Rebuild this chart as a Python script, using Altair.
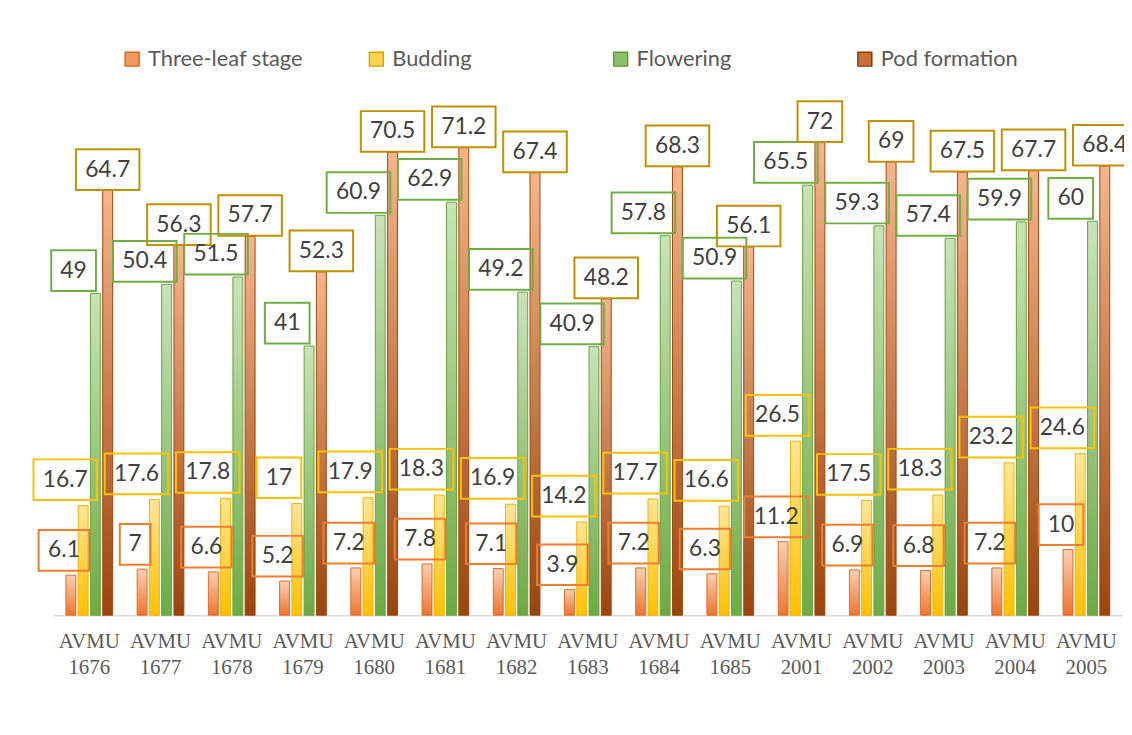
import math
import altair as alt
import pandas as pd

# ---------------- data ----------------
categories = ["AVMU 1676", "AVMU 1677", "AVMU 1678", "AVMU 1679", "AVMU 1680",
              "AVMU 1681", "AVMU 1682", "AVMU 1683", "AVMU 1684", "AVMU 1685",
              "AVMU 2001", "AVMU 2002", "AVMU 2003", "AVMU 2004", "AVMU 2005"]
series_names = ["Three-leaf stage", "Budding", "Flowering", "Pod formation"]
three_leaf = [6.1, 7, 6.6, 5.2, 7.2, 7.8, 7.1, 3.9, 7.2, 6.3, 11.2, 6.9, 6.8, 7.2, 10]
budding = [16.7, 17.6, 17.8, 17, 17.9, 18.3, 16.9, 14.2, 17.7, 16.6, 26.5, 17.5, 18.3, 23.2, 24.6]
flowering = [49, 50.4, 51.5, 41, 60.9, 62.9, 49.2, 40.9, 57.8, 50.9, 65.5, 59.3, 57.4, 59.9, 60]
pod_formation = [64.7, 56.3, 57.7, 52.3, 70.5, 71.2, 67.4, 48.2, 68.3, 56.1, 72, 69, 67.5, 67.7, 68.4]

series_values = dict(zip(series_names, [three_leaf, budding, flowering, pod_formation]))

# ---------------- styles ----------------
FONT = "Lato"
LABEL_SIZE = 23
bar_top = {"Three-leaf stage": "#F9D0B4", "Budding": "#FFE699",
           "Flowering": "#C9E3B8", "Pod formation": "#F5B58A"}
bar_bottom = {"Three-leaf stage": "#EC7530", "Budding": "#FFC000",
              "Flowering": "#6DAA44", "Pod formation": "#9A450D"}
bar_edge = {"Three-leaf stage": "#E36C25", "Budding": "#F0B400",
            "Flowering": "#66A540", "Pod formation": "#A2470F"}
box_edge = {"Three-leaf stage": "#ED7D31", "Budding": "#FFC000",
            "Flowering": "#70AD47", "Pod formation": "#BF9000"}
legend_fill = ["#F19A62", "#FFD34D", "#8DC06A", "#C9703A"]
legend_edge = ["#D8651F", "#D9A300", "#5E9A38", "#8A3A0A"]
label_dx = {"Three-leaf stage": -7, "Budding": -18, "Flowering": -22, "Pod formation": 0}
label_dy = {"Three-leaf stage": -25, "Budding": -26, "Flowering": -23, "Pod formation": -21}
BOX_H = 41
SYM_SIZE = 10000
R = math.sqrt(SYM_SIZE) / 2


def text_width(s):
    return sum(0.58 * LABEL_SIZE if ch.isdigit() else 0.26 * LABEL_SIZE for ch in s)


rows = []
for s in series_names:
    for c, v in zip(categories, series_values[s]):
        lab = f"{v:g}"
        w = int(round(text_width(lab) + 18))
        rows.append(dict(category=c, series=s, value=v, label=lab, boxkey=f"{s}|{w}"))
df = pd.DataFrame(rows)

box_keys = sorted(set(df["boxkey"]))


def box_path(key):
    s, w = key.split("|")
    w = float(w)
    cx, cy = label_dx[s], label_dy[s]
    x0, x1 = (cx - w / 2) / R, (cx + w / 2) / R
    y0, y1 = (cy - BOX_H / 2) / R, (cy + BOX_H / 2) / R
    return f"M{x0:.4f},{y0:.4f}L{x1:.4f},{y0:.4f}L{x1:.4f},{y1:.4f}L{x0:.4f},{y1:.4f}Z"


box_paths = [box_path(k) for k in box_keys]


def gradient(s):
    return alt.Gradient(
        gradient="linear",
        stops=[alt.GradientStop(color=bar_top[s], offset=0),
               alt.GradientStop(color=bar_bottom[s], offset=1)],
        x1=0, x2=0, y1=0, y2=1,
    )


x_enc = alt.X(
    "category:N", sort=categories,
    scale=alt.Scale(paddingInner=0, paddingOuter=0),
    axis=alt.Axis(title=None, labelExpr="split(datum.label, ' ')",
                  labelFont="Liberation Serif", labelFontSize=21, labelColor="#595959",
                  labelLineHeight=26, labelPadding=16, ticks=False, labelAngle=0,
                  domainColor="#D9D9D9", domainWidth=1.5, grid=False),
)
xoff = alt.XOffset("series:N", sort=series_names,
                   scale=alt.Scale(domain=series_names, paddingInner=0.19, paddingOuter=1.0))
y_enc = alt.Y("value:Q", scale=alt.Scale(domain=[0, 80]), axis=None)

base = alt.Chart(df)

bars = [
    base.transform_filter(alt.datum.series == s)
    .mark_bar(fill=gradient(s), stroke=bar_edge[s], strokeWidth=1)
    .encode(x=x_enc, xOffset=xoff, y=y_enc)
    for s in series_names
]

boxes = [
    base.transform_filter(alt.datum.series == s)
    .mark_point(size=SYM_SIZE, filled=False, strokeWidth=2, opacity=1, stroke=box_edge[s])
    .encode(x=x_enc, xOffset=xoff, y=y_enc,
            shape=alt.Shape("boxkey:N", scale=alt.Scale(domain=box_keys, range=box_paths),
                            legend=None))
    for s in series_names
]

texts = [
    base.transform_filter(alt.datum.series == s)
    .mark_text(dx=label_dx[s], dy=label_dy[s], font=FONT, fontSize=LABEL_SIZE,
               color="#404040", align="center", baseline="middle")
    .encode(x=x_enc, xOffset=xoff, y=y_enc, text="label:N")
    for s in series_names
]

leg = alt.Legend(title=None, orient="none", legendX=68, legendY=-42,
                 direction="horizontal", columns=4, gridAlign="all", columnPadding=62,
                 symbolType="square", symbolSize=196, symbolStrokeWidth=1.5,
                 labelFont=FONT, labelFontSize=22, labelColor="#595959",
                 labelOffset=5, padding=0)

legend_layer = (
    base.transform_filter("datum.value < 0")
    .mark_square(size=196, filled=True, strokeWidth=1.5, opacity=1)
    .encode(
        fill=alt.Fill("series:N", sort=series_names,
                      scale=alt.Scale(domain=series_names, range=legend_fill), legend=leg),
        stroke=alt.Stroke("series:N", sort=series_names,
                          scale=alt.Scale(domain=series_names, range=legend_edge), legend=leg),
    )
)

chart = (
    alt.layer(*bars, *boxes, *texts, legend_layer)
    .properties(width=1076, height=529,
                autosize=alt.AutoSizeParams(type="none"),
                padding={"left": 46, "top": 80, "right": 2, "bottom": 100},
                background="white")
    .configure_view(stroke=None)
)

chart.save("out.html", embed_options={"renderer": "svg", "actions": False})
